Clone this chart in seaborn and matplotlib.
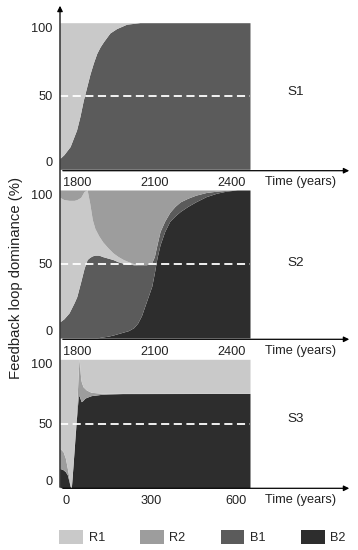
import matplotlib
matplotlib.use("Agg")
import matplotlib.pyplot as plt
from matplotlib.patches import Patch
import seaborn as sns

# ---------------- data (percent dominance of each feedback loop) ----------------
loops = ["R1", "R2", "B1", "B2"]
scenario_labels = ["S1", "S2", "S3"]
y_ticks = [0, 50, 100]
x_ticks_s12 = [1800, 2100, 2400]
x_ticks_s3 = [0, 300, 600]
x_title = "Time (years)"
y_title = "Feedback loop dominance (%)"

# S1
years_s1 = [1735, 1750, 1774, 1799, 1812, 1825, 1838, 1851, 1864, 1877, 1890,
            1903, 1928, 1954, 1993, 2044, 2100, 2470]
s1_B1 = [7.5, 10, 15.5, 26.8, 36, 47, 56, 65, 72.5, 79, 83.5,
         87, 93, 96, 99, 100, 100, 100]
s1_R1 = [92.5, 90, 84.5, 73.2, 64, 53, 44, 35, 27.5, 21, 16.5,
         13, 7, 4, 1, 0, 0, 0]

# S2
years_s2 = [1735, 1750, 1770, 1790, 1800, 1815, 1828, 1840, 1850, 1860, 1870,
            1885, 1900, 1920, 1940, 1960, 1980, 2000, 2020, 2035, 2050, 2070,
            2090, 2100, 2110, 2122, 2140, 2160, 2180, 2200, 2230, 2260, 2300,
            2340, 2380, 2420, 2470]
s2_B2 = [0, 0, 0, 0, 0, 0, 0, 0, 0, 0, 0,
         0.3, 0.7, 1.2, 2, 3, 4, 5, 7, 10, 15, 25,
         35, 44, 54, 63, 72, 79, 82.5, 85.5, 89, 92, 95.5,
         97.8, 99.3, 100, 100]
s2_B1 = [11, 13, 17, 24, 28, 38, 47, 53, 54.5, 55.5, 56,
         55.7, 54.3, 52.8, 51, 48.5, 46.5, 45, 42.5, 39.5, 34.5, 24.5,
         16, 11, 9, 9, 7, 6, 6.5, 6.5, 5.5, 4.5, 2.8,
         1.4, 0.4, 0, 0]
s2_R1 = [84, 80.5, 76, 69, 65.5, 57, 52, 47, 36.5, 24.5, 18,
         13, 10, 7, 4.5, 3.5, 2.5, 1.5, 0.8, 0, 0, 0,
         0, 0, 0, 0, 0, 0, 0, 0, 0, 0, 0,
         0, 0, 0, 0]
s2_R2 = [5, 6.5, 7, 7, 6.5, 5, 1, 0, 9, 20, 26,
         31, 35, 39, 42.5, 45, 47, 48.5, 49.7, 50.5, 50.5, 50.5,
         49, 45, 37, 28, 21, 15, 11, 8, 5.5, 3.5, 1.7,
         0.8, 0.3, 0, 0]

# S3
years_s3 = [-20, -9, -1, 6, 12, 16, 18, 20, 26, 32, 38, 44, 47, 48, 53, 55,
            61, 67, 73, 90, 126, 149, 200, 650]
s3_B2 = [15, 14, 12.5, 10, 4.7, 1, 0, 0, 17.7, 36, 54, 70, 72, 71.5, 68, 67,
         68, 69.6, 70.3, 71.7, 72.7, 73, 73.3, 73.4]
s3_R2 = [15.6, 14, 10.5, 5, 2.6, 0.5, 0, 0, 0, 2, 5, 18, 28, 27.5, 17, 15.6,
         10.7, 7.8, 5.8, 2.6, 0.9, 0.6, 0.3, 0.2]
s3_R1 = [69.4, 72, 77, 85, 92.7, 98.5, 100, 100, 82.3, 62, 41, 12, 0, 1, 15, 17.4,
         21.3, 22.6, 23.9, 25.7, 26.4, 26.4, 26.4, 26.4]

# ---------------- styling ----------------
sns.set_theme(style="white")
plt.rcParams["font.family"] = ["Liberation Sans", "DejaVu Sans"]
palette = dict(zip(loops, ["#c9c9c9", "#9d9d9d", "#5b5b5b", "#2d2d2d"]))
FS = 9.2
TXT = "#222222"

W, H = 358, 550
fig = plt.figure(figsize=(W / 100, H / 100), dpi=100)


def rect(x0, y0, x1, y1):
    return [x0 / W, 1 - y1 / H, (x1 - x0) / W, (y1 - y0) / H]


panels = [
    dict(box=(60, 22.7, 250, 169.3), x=years_s1,
         series=[("B1", s1_B1), ("R1", s1_R1)],
         xlim=(1735, 2470), xticks=x_ticks_s12, label=scenario_labels[0],
         axis_y=170.7, label_y=92),
    dict(box=(60, 190, 250, 338), x=years_s2,
         series=[("B2", s2_B2), ("B1", s2_B1), ("R1", s2_R1), ("R2", s2_R2)],
         xlim=(1735, 2470), xticks=x_ticks_s12, label=scenario_labels[1],
         axis_y=339.3, label_y=263),
    dict(box=(60, 359.3, 250, 487.7), x=years_s3,
         series=[("B2", s3_B2), ("R2", s3_R2), ("R1", s3_R1)],
         xlim=(-20, 650), xticks=x_ticks_s3, label=scenario_labels[2],
         axis_y=488.3, label_y=419),
]

for p in panels:
    ax = fig.add_axes(rect(*p["box"]))
    names = [s[0] for s in p["series"]]
    vals = [s[1] for s in p["series"]]
    ax.stackplot(p["x"], *vals, colors=[palette[n] for n in names],
                 linewidth=0, antialiased=True)
    ax.axhline(50, color="white", lw=1.3, dashes=(4.5, 2.5))
    ax.set_xlim(*p["xlim"])
    ax.set_ylim(0, 100)
    ax.set_xticks(p["xticks"])
    ax.set_yticks(y_ticks)
    ax.tick_params(axis="both", length=0, labelsize=FS, colors=TXT)
    ax.tick_params(axis="x", pad=5.5)
    ax.tick_params(axis="y", pad=5.5)
    yt = ax.yaxis.get_major_ticks()
    yt[0].label1.set_va("bottom")
    yt[-1].label1.set_va("top")
    for s in ax.spines.values():
        s.set_visible(False)
    ax.grid(False)
    # horizontal time axis with arrow
    yf = 1 - p["axis_y"] / H
    fig.add_artist(matplotlib.patches.FancyArrowPatch(
        (60 / W, yf), (352 / W, yf), transform=fig.transFigure,
        arrowstyle="-|>", mutation_scale=8, color="black", lw=0.9))
    fig.text(265 / W, 1 - (p["axis_y"] + 11.5) / H, x_title, fontsize=FS,
             ha="left", va="center", color=TXT)
    fig.text(296 / W, 1 - p["label_y"] / H, p["label"], fontsize=FS + 0.5,
             ha="center", va="center", color=TXT)

# vertical dominance axis with arrow
fig.add_artist(matplotlib.patches.FancyArrowPatch(
    (60 / W, 1 - 490 / H), (60 / W, 1 - 3 / H), transform=fig.transFigure,
    arrowstyle="-|>", mutation_scale=8, color="black", lw=0.9))

fig.text(16 / W, 1 - 278 / H, y_title, rotation=90, fontsize=10.7,
         ha="center", va="center", color=TXT)

handles = [Patch(facecolor=palette[n], edgecolor="none", label=n) for n in loops]
fig.legend(handles=handles, loc="center left", ncol=4, frameon=False,
           bbox_to_anchor=(59.3 / W, 1 - 537 / H), fontsize=FS,
           handlelength=1.85, handleheight=1.3, handletextpad=0.45,
           columnspacing=2.75, borderpad=0, borderaxespad=0)

fig.savefig("out.png", dpi=100)
